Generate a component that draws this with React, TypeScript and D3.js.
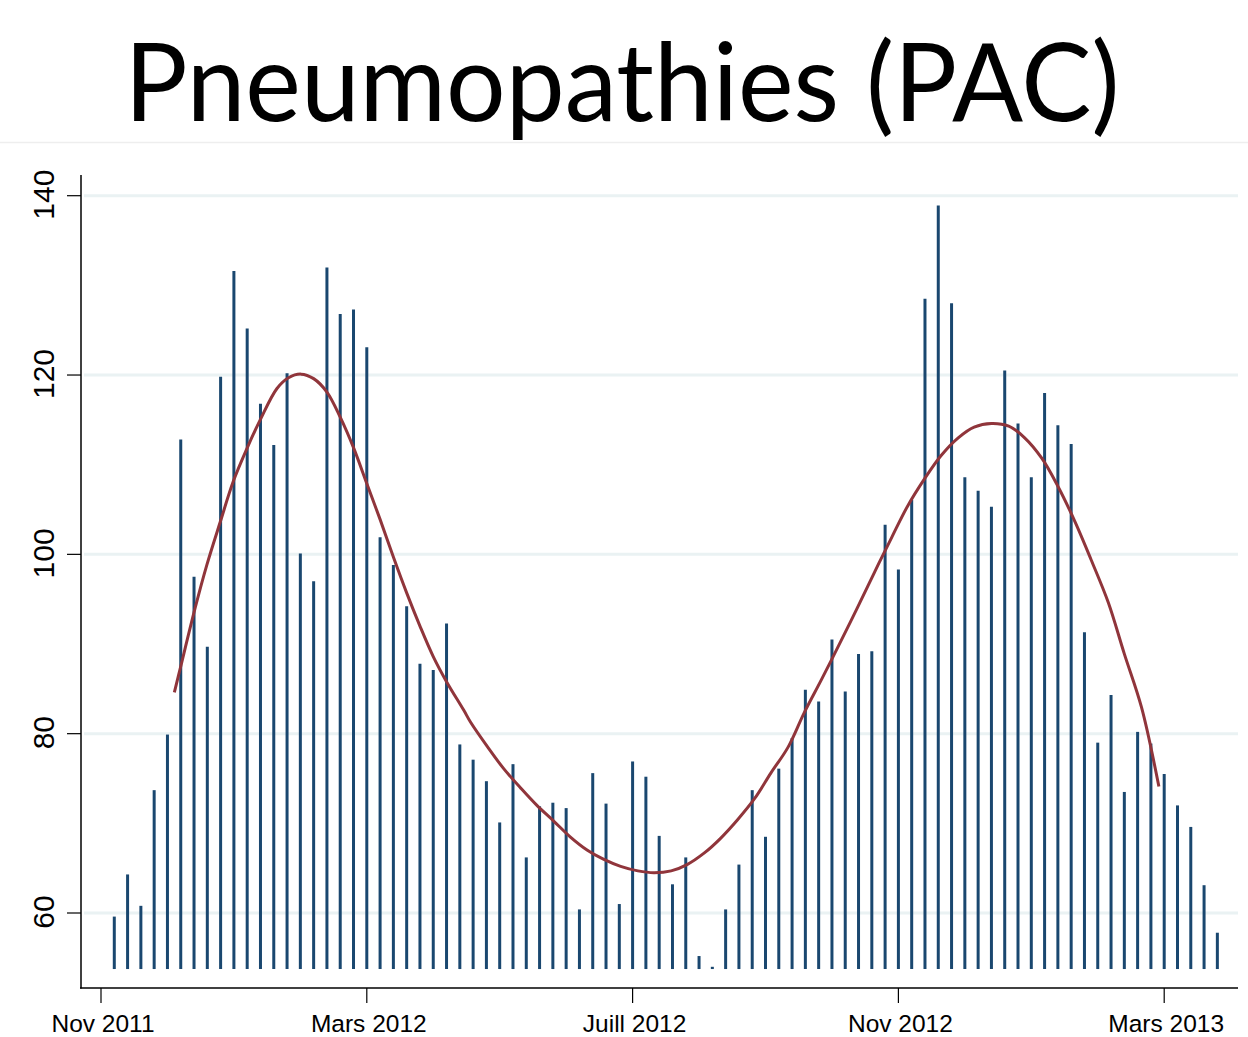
import React from "react";
import * as d3 from "d3";

const TITLE = "Pneumopathies (PAC)";

// weekly counts, one per bar (index 0..83)
const counts: number[] = [
  59.6, 64.3, 60.8, 73.7, 79.9, 112.8, 97.5, 89.7, 119.8, 131.6,
  125.2, 116.8, 112.2, 120.2, 100.1, 97.0, 132.0, 126.8, 127.3, 123.1,
  101.9, 98.8, 94.2, 87.8, 87.1, 92.3, 78.8, 77.1, 74.7, 70.1,
  76.6, 66.2, 71.9, 72.3, 71.7, 60.4, 75.6, 72.2, 61.0, 76.9,
  75.2, 68.6, 63.2, 66.2, 55.2, 54.0, 60.4, 65.4, 73.7, 68.5,
  76.1, 79.5, 84.9, 83.6, 90.5, 84.7, 88.9, 89.2, 103.3, 98.3,
  106.1, 128.5, 138.9, 128.0, 108.6, 107.1, 105.3, 120.5, 114.6, 108.6,
  118.0, 114.4, 112.3, 91.3, 79.0, 84.3, 73.5, 80.2, 78.9, 75.5,
  72.0, 69.6, 63.1, 57.8,
];
const barBase = 53.75;

// smoothed trend (position in weeks, value)
const smoothX: number[] = [
  4.52, 4.95, 6.08, 6.96, 7.97, 8.97, 9.98, 10.98, 12.24, 13.11,
  14.05, 15.0, 16.0, 17.0, 18.0, 19.0, 20.0, 21.0, 22.0, 23.0,
  24.0, 25.0, 26.3, 26.8, 28.1, 29.3, 30.6, 31.8, 33.1, 34.3,
  35.6, 36.8, 38.1, 39.4, 40.6, 41.9, 43.1, 44.4, 45.6, 46.9,
  48.2, 49.4, 50.7, 51.9, 53.2, 54.7, 55.9, 57.2, 58.5, 59.7,
  61.0, 62.2, 63.5, 64.7, 66.0, 67.3, 68.5, 69.8, 71.0, 72.3,
  73.5, 74.8, 76.0, 77.3, 78.6,
];
const smoothY: number[] = [
  84.6, 87.2, 94.0, 98.8, 103.6, 108.2, 111.8, 115.0, 118.5, 119.7,
  120.1, 119.6, 118.1, 115.3, 111.9, 107.9, 103.9, 99.7, 95.7, 92.0,
  88.6, 85.8, 82.6, 81.3, 78.5, 76.1, 73.9, 72.0, 70.2, 68.5,
  67.0, 66.0, 65.2, 64.7, 64.5, 64.7, 65.4, 66.7, 68.3, 70.4,
  72.8, 75.6, 78.5, 82.3, 86.0, 90.4, 94.0, 98.0, 101.9, 105.4,
  108.5, 111.0, 113.0, 114.2, 114.6, 114.3, 113.0, 110.7, 107.6, 103.6,
  99.4, 94.6, 88.9, 82.9, 74.1,
];

const yTicks: number[] = [60, 80, 100, 120, 140];
const xTickPos: number[] = [-1, 19, 39, 59, 79];
const xTickLabels: string[] = ["Nov 2011", "Mars 2012", "Juill 2012", "Nov 2012", "Mars 2013"];

const W = 1248;
const H = 1037;

export default function App() {
  const x = d3.scaleLinear().domain([-1, 79]).range([101, 1164.2]);
  const y = d3.scaleLinear().domain([60, 140]).range([913, 195.7]);

  const axisLeft = 81;
  const axisBottom = 988;
  const plotRight = 1238;
  const axisTop = 175;

  const pts: [number, number][] = smoothX.map((v, i) => [v, smoothY[i]]);
  const line = d3
    .line<[number, number]>()
    .x((d) => x(d[0]))
    .y((d) => y(d[1]))
    .curve(d3.curveCatmullRom.alpha(0.5));

  return (
    <svg
      width={W}
      height={H}
      style={{ position: "absolute", left: 0, top: 0, background: "#fff" }}
    >
      <rect x={0} y={0} width={W} height={H} fill="#ffffff" />
      <text
        x={622}
        y={121}
        textAnchor="middle"
        fontFamily="Lato, 'Open Sans', sans-serif"
        fontSize={108}
        textLength={995}
        lengthAdjust="spacingAndGlyphs"
        fill="#000"
      >
        {TITLE}
      </text>
      <line x1={0} x2={W} y1={142.5} y2={142.5} stroke="#eeeeee" strokeWidth={1.5} />

      {/* grid */}
      {yTicks.map((t) => (
        <line
          key={"g" + t}
          x1={axisLeft + 3}
          x2={plotRight}
          y1={y(t)}
          y2={y(t)}
          stroke="#eaf2f3"
          strokeWidth={3}
        />
      ))}

      {/* bars */}
      {counts.map((v, i) => (
        <line
          key={"b" + i}
          x1={x(i)}
          x2={x(i)}
          y1={y(barBase)}
          y2={y(v)}
          stroke="#1a476f"
          strokeWidth={3}
        />
      ))}

      {/* smooth */}
      <path d={line(pts) || ""} fill="none" stroke="#90353b" strokeWidth={3} />

      {/* axes */}
      <line x1={axisLeft} x2={axisLeft} y1={axisTop} y2={axisBottom + 0.5} stroke="#000" strokeWidth={1.5} />
      <line x1={axisLeft - 1} x2={plotRight} y1={axisBottom} y2={axisBottom} stroke="#000" strokeWidth={1.5} />

      {yTicks.map((t) => (
        <g key={"yt" + t}>
          <line x1={67} x2={axisLeft} y1={y(t)} y2={y(t)} stroke="#000" strokeWidth={1.2} />
          <text
            transform={`translate(54,${y(t) - 1}) rotate(-90)`}
            textAnchor="middle"
            fontFamily="'Liberation Sans', Arial, sans-serif"
            fontSize={30}
            fill="#000"
          >
            {t}
          </text>
        </g>
      ))}

      {xTickPos.map((p, i) => (
        <g key={"xt" + i}>
          <line x1={x(p)} x2={x(p)} y1={axisBottom} y2={1003} stroke="#000" strokeWidth={1.2} />
          <text
            x={x(p) + 2}
            y={1032}
            textAnchor="middle"
            fontFamily="'Liberation Sans', Arial, sans-serif"
            fontSize={24.5}
            fill="#000"
          >
            {xTickLabels[i]}
          </text>
        </g>
      ))}
    </svg>
  );
}
